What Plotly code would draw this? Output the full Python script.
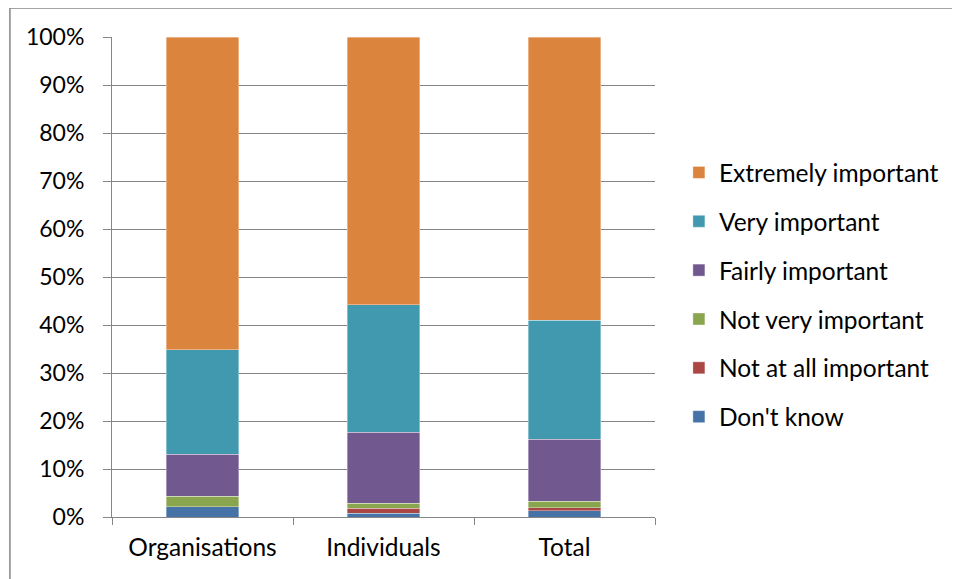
import plotly.graph_objects as go

categories = ["Organisations", "Individuals", "Total"]
series_names = ["Don't know", "Not at all important", "Not very important",
                "Fairly important", "Very important", "Extremely important"]
dont_know = [2.1, 0.8, 1.3]
not_at_all = [0.0, 1.0, 0.6]
not_very = [2.2, 1.1, 1.4]
fairly = [8.8, 14.8, 12.9]
very = [21.7, 26.5, 24.8]
extremely = [65.2, 55.8, 59.0]
values = [dont_know, not_at_all, not_very, fairly, very, extremely]
colors = ["#4572A7", "#AA4643", "#89A54E", "#71588F", "#4199B0", "#DB843D"]
y_ticks = [0, 10, 20, 30, 40, 50, 60, 70, 80, 90, 100]
y_tick_labels = [f"{v}%" for v in y_ticks]

FONT = "Lato"

fig = go.Figure()
n = len(series_names)
for i, (name, vals, col) in enumerate(zip(series_names, values, colors)):
    fig.add_trace(go.Bar(
        x=categories, y=vals, name=name, legendgroup=name,
        legendrank=n - i,
        marker=dict(color=col, line=dict(color="rgba(255,255,255,0.6)", width=0.6)),
        width=0.4,
    ))

fig.update_layout(
    barmode="stack",
    width=952, height=571,
    margin=dict(l=104, r=305, t=29, b=62),
    paper_bgcolor="white", plot_bgcolor="white",
    font=dict(family=FONT, size=23, color="#000000"),
    legend=dict(
        traceorder="grouped", tracegroupgap=14,
        x=1.044, xanchor="left", y=0.4625, yanchor="middle",
        font=dict(size=24.5), itemwidth=30,
    ),
    showlegend=True,
)
fig.update_xaxes(
    type="category", tickson="boundaries", ticks="outside", ticklen=7,
    tickcolor="#868686", showline=True, linecolor="#868686", linewidth=1,
    showgrid=False, tickfont=dict(size=24.5), ticklabelstandoff=9,
)
fig.update_yaxes(
    range=[0, 100], tickvals=y_ticks, ticktext=y_tick_labels,
    ticks="outside", ticklen=8, tickcolor="#868686",
    showline=True, linecolor="#868686", linewidth=1,
    showgrid=True, gridcolor="#868686", gridwidth=1,
    tickfont=dict(size=23), zeroline=False, ticklabelstandoff=14,
)
# chart-area border (only left and top edges fall inside the picture)
fig.add_shape(type="line", xref="paper", yref="paper",
              x0=-0.188, x1=-0.188, y0=-0.5, y1=1.0604,
              line=dict(color="#868686", width=1.5), layer="below")
fig.add_shape(type="line", xref="paper", yref="paper",
              x0=-0.188, x1=1.9, y0=1.0604, y1=1.0604,
              line=dict(color="#868686", width=1.5), layer="below")

fig.write_html("out.html")
